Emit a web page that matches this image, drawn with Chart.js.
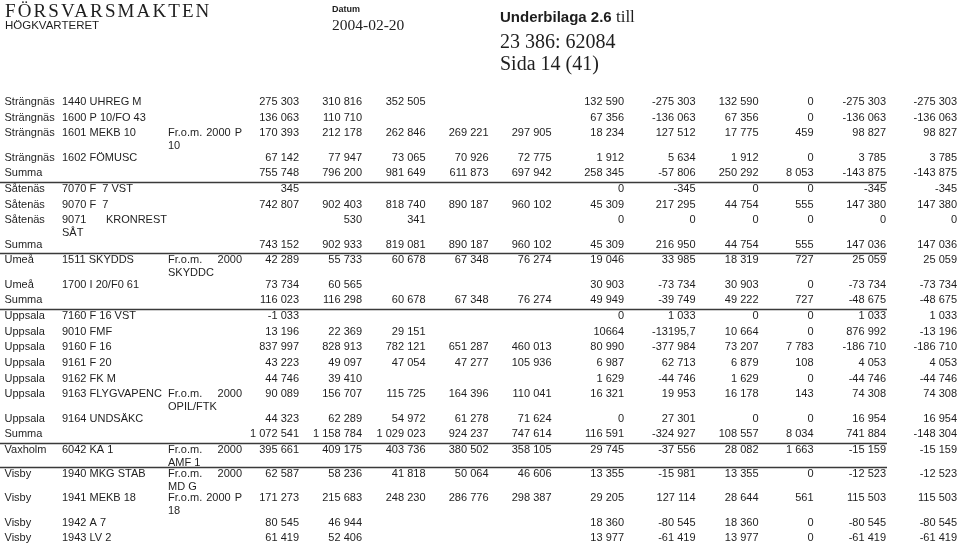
<!DOCTYPE html>
<html lang="sv">
<head>
<meta charset="utf-8">
<title>Underbilaga 2.6</title>
<script src="https://cdn.jsdelivr.net/npm/chart.js@4"></script>
<style>
  html, body { margin: 0; padding: 0; background: #fff; }
  #page { position: relative; width: 960px; height: 545px; overflow: hidden; background: #fff; color: #1e1e1e; }
  #table-chart { position: absolute; left: 0; top: 0; }
  .hd { position: absolute; white-space: nowrap; line-height: 1; }
  .serif { font-family: "Liberation Serif", "DejaVu Serif", serif; }
  .sans { font-family: "Liberation Sans", Arial, sans-serif; }
</style>
</head>
<body>
<div id="page">
  <canvas id="table-chart" width="960" height="545"></canvas>
  <div class="hd serif" style="left:5px;top:1px;font-size:19px;letter-spacing:2.1px;">FÖRSVARSMAKTEN</div>
  <div class="hd sans" style="left:5px;top:20px;font-size:11.5px;">HÖGKVARTERET</div>
  <div class="hd sans" style="left:332px;top:5px;font-size:9px;font-weight:bold;">Datum</div>
  <div class="hd serif" style="left:332px;top:17px;font-size:15.5px;">2004-02-20</div>
  <div class="hd" style="left:500px;top:8px;"><span class="sans" style="font-size:15px;font-weight:bold;">Underbilaga 2.6</span><span class="serif" style="font-size:17px;"> till</span></div>
  <div class="hd serif" style="left:500px;top:31px;font-size:20px;">23 386: 62084</div>
  <div class="hd serif" style="left:500px;top:53px;font-size:20px;">Sida 14 (41)</div>
</div>
<script>
/*----- data -----*/
const places = ["Strängnäs","Strängnäs","Strängnäs","Strängnäs","Summa",
  "Såtenäs","Såtenäs","Såtenäs","Summa",
  "Umeå","Umeå","Summa",
  "Uppsala","Uppsala","Uppsala","Uppsala","Uppsala","Uppsala","Uppsala","Summa",
  "Vaxholm","Visby","Visby","Visby","Visby"]
const codes = ["1440","1600","1601","1602","",
  "7070","9070","9071","",
  "1511","1700","",
  "7160","9010","9160","9161","9162","9163","9164","",
  "6042","1940","1941","1942","1943"]
const units = ["UHREG M","P 10/FO 43","MEKB 10","FÖMUSC","",
  "F  7 VST","F  7","KRONREST SÅT","",
  "SKYDDS","I 20/F0 61","",
  "F 16 VST","FMF","F 16","F 20","FK M","FLYGVAPENC","UNDSÄKC","",
  "KA 1","MKG STAB","MEKB 18","A 7","LV 2"]
const notes = ["","","Fr.o.m. 2000 P 10","","",
  "","","","",
  "Fr.o.m. 2000 SKYDDC","","",
  "","","","","","Fr.o.m. 2000 OPIL/FTK","","",
  "Fr.o.m. 2000 AMF 1","Fr.o.m. 2000 MD G","Fr.o.m. 2000 P 18","",""]

// value columns, as printed (empty string = blank cell)
const col1 = ["275 303","136 063","170 393","67 142","755 748","345","742 807","","743 152","42 289","73 734","116 023","-1 033","13 196","837 997","43 223","44 746","90 089","44 323","1 072 541","395 661","62 587","171 273","80 545","61 419"]
const col2 = ["310 816","110 710","212 178","77 947","796 200","","902 403","530","902 933","55 733","60 565","116 298","","22 369","828 913","49 097","39 410","156 707","62 289","1 158 784","409 175","58 236","215 683","46 944","52 406"]
const col3 = ["352 505","","262 846","73 065","981 649","","818 740","341","819 081","60 678","","60 678","","29 151","782 121","47 054","","115 725","54 972","1 029 023","403 736","41 818","248 230","",""]
const col4 = ["","","269 221","70 926","611 873","","890 187","","890 187","67 348","","67 348","","","651 287","47 277","","164 396","61 278","924 237","380 502","50 064","286 776","",""]
const col5 = ["","","297 905","72 775","697 942","","960 102","","960 102","76 274","","76 274","","","460 013","105 936","","110 041","71 624","747 614","358 105","46 606","298 387","",""]
const col6 = ["132 590","67 356","18 234","1 912","258 345","0","45 309","0","45 309","19 046","30 903","49 949","0","10664","80 990","6 987","1 629","16 321","0","116 591","29 745","13 355","29 205","18 360","13 977"]
const col7 = ["-275 303","-136 063","127 512","5 634","-57 806","-345","217 295","0","216 950","33 985","-73 734","-39 749","1 033","-13195,7","-377 984","62 713","-44 746","19 953","27 301","-324 927","-37 556","-15 981","127 114","-80 545","-61 419"]
const col8 = ["132 590","67 356","17 775","1 912","250 292","0","44 754","0","44 754","18 319","30 903","49 222","0","10 664","73 207","6 879","1 629","16 178","0","108 557","28 082","13 355","28 644","18 360","13 977"]
const col9 = ["0","0","459","0","8 053","0","555","0","555","727","0","727","0","0","7 783","108","0","143","0","8 034","1 663","0","561","0","0"]
const col10 = ["-275 303","-136 063","98 827","3 785","-143 875","-345","147 380","0","147 036","25 059","-73 734","-48 675","1 033","876 992","-186 710","4 053","-44 746","74 308","16 954","741 884","-15 159","-12 523","115 503","-80 545","-61 419"]
const col11 = ["-275 303","-136 063","98 827","3 785","-143 875","-345","147 380","0","147 036","25 059","-73 734","-48 675","1 033","-13 196","-186 710","4 053","-44 746","74 308","16 954","-148 304","-15 159","-12 523","115 503","-80 545","-61 419"]

/*----- layout -----*/
const valueCols = [col1, col2, col3, col4, col5, col6, col7, col8, col9, col10, col11]
const valueRight = [299, 362, 425.5, 488.5, 551.5, 624, 695.5, 758.5, 813.5, 886, 957]
const placeX = 4.5, codeX = 62, codeW = 105, noteX = 168, noteW = 74
const tableTop = 102, lineH = 15.7, wrapExtra = 8.5, wrapStep = 12.5
const ruleEnd = 887
const FONT = "11px 'Liberation Sans', Arial, sans-serif"
const INK = "#1e1e1e"

/*----- functions -----*/
function wrapText(ctx, text, width) {
  if (!text) return []
  if (ctx.measureText(text).width <= width) return [text]
  const words = text.split(/\s+/)
  const lines = []
  let cur = ""
  words.forEach(w => {
    const test = cur ? cur + " " + w : w
    if (cur && ctx.measureText(test).width > width) {
      lines.push(cur)
      cur = w
    } else {
      cur = test
    }
  })
  if (cur) lines.push(cur)
  return lines
}

function drawJustified(ctx, line, x, y, width, justify) {
  const words = line.split(/\s+/)
  if (!justify || words.length < 2) {
    ctx.fillText(line, x, y)
    return
  }
  const total = words.reduce((s, w) => s + ctx.measureText(w).width, 0)
  const gap = (width - total) / (words.length - 1)
  let cx = x
  words.forEach(w => {
    ctx.fillText(w, cx, y)
    cx += ctx.measureText(w).width + gap
  })
}

function drawCell(ctx, text, x, y, width) {
  const lines = wrapText(ctx, text, width)
  lines.forEach((l, i) => drawJustified(ctx, l, x, y + i * wrapStep, width, i < lines.length - 1))
  return lines.length
}

const tablePlugin = {
  id: 'tableCells',
  afterDraw(chart) {
    const ctx = chart.ctx
    const xs = chart.scales.x
    const ys = chart.scales.y
    ctx.save()
    ctx.font = FONT
    ctx.fillStyle = INK
    ctx.textBaseline = 'middle'

    // row positions in y-scale units from the number of wrapped lines
    const rowY = []
    let y = tableTop
    places.forEach((p, i) => {
      rowY.push(y)
      const codeText = codes[i] ? codes[i] + " " + units[i] : units[i]
      const n = Math.max(1, wrapText(ctx, codeText, codeW).length, wrapText(ctx, notes[i], noteW).length)
      y += lineH + (n - 1) * wrapExtra
    })

    places.forEach((p, i) => {
      const py = ys.getPixelForValue(rowY[i])
      ctx.textAlign = 'left'
      ctx.fillText(p, xs.getPixelForValue(placeX), py)
      const codeText = codes[i] ? codes[i] + " " + units[i] : units[i]
      drawCell(ctx, codeText, xs.getPixelForValue(codeX), py, codeW)
      drawCell(ctx, notes[i], xs.getPixelForValue(noteX), py, noteW)
      ctx.textAlign = 'right'
      valueCols.forEach((col, c) => {
        if (col[i] !== "") ctx.fillText(col[i], xs.getPixelForValue(valueRight[c]), py)
      })
    })

    // rules under each group
    ctx.strokeStyle = "#3a3a3a"
    ctx.lineWidth = 1.6
    places.forEach((p, i) => {
      if (i === places.length - 1) return
      const next = places[i + 1]
      if (p === "Summa" || (next !== p && next !== "Summa")) {
        const ly = Math.round(ys.getPixelForValue(rowY[i + 1] - 7)) + 0.5
        ctx.beginPath()
        ctx.moveTo(xs.getPixelForValue(0), ly)
        ctx.lineTo(xs.getPixelForValue(ruleEnd), ly)
        ctx.stroke()
      }
    })
    ctx.restore()
  }
}

/*----- chart -----*/
const tableChart = document.getElementById('table-chart')
new Chart(tableChart, {
  type: 'scatter',
  data: { datasets: [] },
  options: {
    responsive: false,
    animation: false,
    layout: { padding: 0 },
    plugins: { legend: { display: false }, tooltip: { enabled: false } },
    scales: {
      x: { type: 'linear', min: 0, max: 960, display: false },
      y: { type: 'linear', min: 0, max: 545, reverse: true, display: false }
    }
  },
  plugins: [tablePlugin]
})
</script>
</body>
</html>
